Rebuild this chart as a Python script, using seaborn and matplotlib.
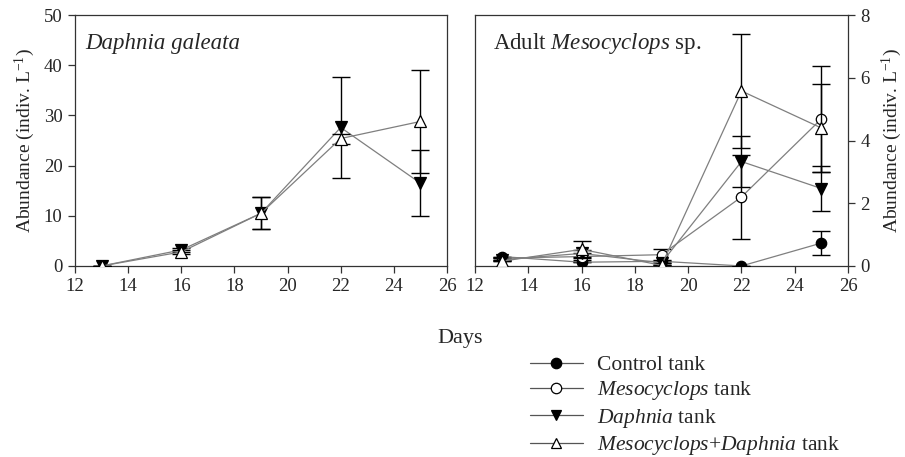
import numpy as np
import pandas as pd
import matplotlib
matplotlib.use("Agg")
import matplotlib.pyplot as plt
from matplotlib.lines import Line2D
import seaborn as sns

# ---- data ----
days = [13, 16, 19, 22, 25]

# Daphnia galeata (left panel)
dg_daphnia = [0.0, 3.2, 10.5, 27.6, 16.5]
dg_daphnia_err = [0.0, 0.4, 3.2, 10.0, 6.6]
dg_both = [0.0, 2.8, 10.5, 25.4, 28.8]
dg_both_err = [0.0, 0.4, 3.2, 1.0, 10.2]

# Adult Mesocyclops sp. (right panel)
ms_control = [0.30, 0.12, 0.15, 0.0, 0.73]
ms_control_err = [0.0, 0.0, 0.0, 0.0, 0.38]
ms_meso = [0.25, 0.30, 0.36, 2.20, 4.69]
ms_meso_err = [0.0, 0.10, 0.18, 1.34, 1.70]
ms_daphnia = [0.20, 0.40, 0.10, 3.33, 2.47]
ms_daphnia_err = [0.0, 0.10, 0.0, 0.82, 0.72]
ms_both = [0.15, 0.53, 0.02, 5.58, 4.40]
ms_both_err = [0.0, 0.27, 0.0, 1.81, 1.40]

legend_labels = ["Control tank", r"$\it{Mesocyclops}$ tank",
                 r"$\it{Daphnia}$ tank", r"$\it{Mesocyclops}$+$\it{Daphnia}$ tank"]

sns.set_style("white")
plt.rcParams['font.family'] = ['Liberation Serif', 'DejaVu Serif']
plt.rcParams['mathtext.fontset'] = 'custom'
plt.rcParams['mathtext.rm'] = 'Liberation Serif'
plt.rcParams['mathtext.it'] = 'Liberation Serif:italic'
plt.rcParams['mathtext.bf'] = 'Liberation Serif:bold'

fig = plt.figure(figsize=(9.05, 4.57), dpi=100)
ax1 = fig.add_axes([0.0829, 0.418, 0.411, 0.549])
ax2 = fig.add_axes([0.525, 0.418, 0.412, 0.549])

styles = {
    "control": dict(marker="o", mfc="black", ms=7.5),
    "meso": dict(marker="o", mfc="white", ms=7.5),
    "daphnia": dict(marker="v", mfc="black", ms=8),
    "both": dict(marker="^", mfc="white", ms=8),
}
line_color = "#7f7f7f"

def draw(ax, y, err, key, z):
    df = pd.DataFrame({"day": days, "val": y})
    ax.errorbar(days, y, yerr=err, fmt="none", ecolor="black", elinewidth=1.0,
                capsize=6.5, capthick=1.0, zorder=z)
    st = styles[key]
    sns.lineplot(data=df, x="day", y="val", ax=ax, color=line_color, linewidth=0.9,
                 marker=st["marker"], markersize=st["ms"], markerfacecolor=st["mfc"],
                 markeredgecolor="black", markeredgewidth=0.9, zorder=z + 1)

draw(ax1, dg_daphnia, dg_daphnia_err, "daphnia", 3)
draw(ax1, dg_both, dg_both_err, "both", 5)

draw(ax2, ms_control, ms_control_err, "control", 3)
draw(ax2, ms_meso, ms_meso_err, "meso", 5)
draw(ax2, ms_daphnia, ms_daphnia_err, "daphnia", 7)
draw(ax2, ms_both, ms_both_err, "both", 9)

for ax in (ax1, ax2):
    ax.set_xlim(12, 26)
    ax.set_xticks(np.arange(12, 27, 2))
    ax.set_xlabel("")
    ax.set_ylabel("")
    for s in ax.spines.values():
        s.set_color("#333333")
        s.set_linewidth(0.9)
    ax.tick_params(axis="both", direction="out", length=5, width=0.9,
                   color="#333333", labelsize=13.5, pad=4)

ax1.set_ylim(0, 50)
ax1.set_yticks(np.arange(0, 51, 10))
ax1.yaxis.set_ticks_position("left")
ax1.xaxis.set_ticks_position("bottom")
ax1.set_ylabel(r"Abundance (indiv. L$^{-1}$)", fontsize=14, labelpad=5)
ax1.text(0.027, 0.888, "Daphnia galeata", transform=ax1.transAxes, fontsize=16.5,
         style="italic", ha="left", va="center")

ax2.set_ylim(0, 8)
ax2.set_yticks(np.arange(0, 9, 2))
ax2.yaxis.set_ticks_position("right")
ax2.yaxis.set_label_position("right")
ax2.xaxis.set_ticks_position("bottom")
ax2.set_ylabel(r"Abundance (indiv. L$^{-1}$)", fontsize=14, labelpad=7)
ax2.text(0.048, 0.888, r"Adult $\it{Mesocyclops}$ sp.", transform=ax2.transAxes,
         fontsize=16.5, ha="left", va="center")

fig.text(0.508, 0.26, "Days", fontsize=16, ha="center", va="center")

handles = []
for key in ["control", "meso", "daphnia", "both"]:
    st = styles[key]
    handles.append(Line2D([], [], color="#555555", linewidth=0.9, marker=st["marker"],
                          markersize=7.5, markerfacecolor=st["mfc"],
                          markeredgecolor="black", markeredgewidth=0.9))
fig.legend(handles, legend_labels, loc="upper left", bbox_to_anchor=(0.5856, 0.223),
           frameon=False, fontsize=15.5, handlelength=2.46, handletextpad=0.65,
           labelspacing=0.2, borderpad=0, borderaxespad=0)

fig.savefig("out.png", dpi=100)
